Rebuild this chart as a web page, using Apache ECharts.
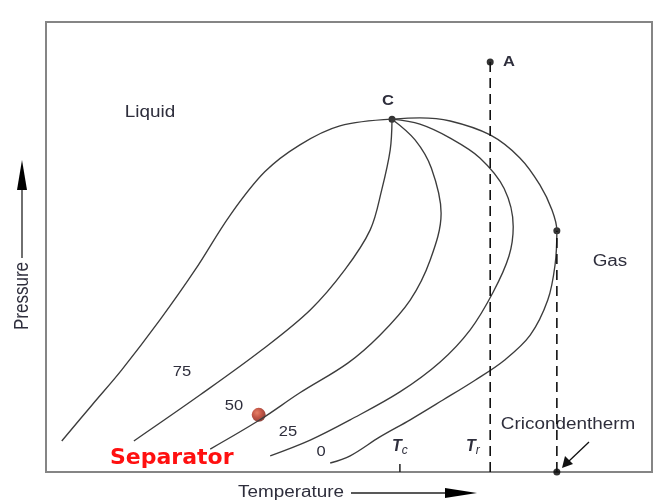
<!DOCTYPE html>
<html>
<head>
<meta charset="utf-8">
<script src="https://cdn.jsdelivr.net/npm/echarts@6/dist/echarts.min.js"></script>
<style>
  html, body { margin: 0; padding: 0; background: #fff; }
  #chart { width: 655px; height: 503px; }
</style>
</head>
<body>
<div id="chart"></div>
<script>
// Phase envelope of a gas-condensate fluid: quality lines (% liquid) in arbitrary T/P units
const criticalPoint = [57.1, 78.4];
const curve100 = [[2.6, 6.9], [7.6, 14.9], [12.5, 22.7], [18.8, 33.8], [24.6, 44.9], [30.4, 57.1], [36.1, 66.7], [41.9, 72.7], [48.5, 76.9], criticalPoint];
const curve75 = [[14.5, 6.9], [25.4, 17.1], [35.6, 27.1], [43.6, 36.0], [49.3, 44.9], [53.5, 53.8], [55.4, 62.7], [56.8, 71.6], criticalPoint];
const curve50 = [[27.1, 5.1], [35.3, 11.6], [41.9, 17.6], [49.8, 24.2], [55.1, 30.4], [60.1, 38.2], [63.4, 47.1], [65.2, 57.5], [63.6, 67.5], [60.9, 73.8], criticalPoint];
const curve25 = [[37.0, 3.6], [43.6, 7.1], [50.2, 11.6], [58.4, 17.8], [65.0, 24.4], [70.0, 31.6], [73.8, 40.0], [76.4, 48.0], [77.1, 54.5], [75.6, 63.0], [71.6, 69.8], [66.7, 74.2], [61.7, 77.3], criticalPoint];
const curve0 = [[46.9, 2.0], [50.2, 3.6], [55.1, 7.8], [60.1, 11.6], [65.5, 16.0], [70.8, 20.4], [75.7, 24.9], [79.9, 30.4], [82.8, 38.2], [84.0, 46.0], [84.3, 53.6], [83.5, 58.2], [81.5, 63.8], [78.2, 69.8], [73.3, 74.9], [66.7, 78.0], [61.7, 78.7], criticalPoint];

const pointA = [73.3, 91.1];
const cricondentherm = [84.3, 53.6];
const Tc = 58.4;
const Tr = 73.3;
const separator = [35.1, 12.7];

const qualityLabels = ['75', '50', '25', '0'];

const chart = echarts.init(document.getElementById('chart'), null, { renderer: 'canvas' });

const lineColor = '#3c3c3c';
const textColor = '#2e2e3c';
const font = 'Liberation Sans, Arial, sans-serif';
const stretch = 1.18; // lettering in this figure runs wide

function envelope(data) {
  return {
    type: 'line', data: data, smooth: 0.35, symbol: 'none', silent: true,
    lineStyle: { color: lineColor, width: 1.35 }, clip: false
  };
}

function dashed(data) {
  return {
    type: 'line', data: data, symbol: 'none', silent: true, clip: false,
    lineStyle: { color: '#111', width: 1.6, type: [10, 6] }
  };
}

function label(text, x, y, size) {
  return {
    type: 'text', x: x, y: y, scaleX: stretch,
    style: { text: text, font: size + 'px ' + font, fill: textColor, align: 'center', verticalAlign: 'middle' }
  };
}

const option = {
  animation: false,
  grid: { left: 46, top: 22, right: 3, bottom: 31, show: true, borderColor: '#858585', borderWidth: 2, backgroundColor: '#fff' },
  xAxis: { type: 'value', min: 0, max: 100, axisLine: { show: false }, axisTick: { show: false }, axisLabel: { show: false }, splitLine: { show: false } },
  yAxis: { type: 'value', min: 0, max: 100, axisLine: { show: false }, axisTick: { show: false }, axisLabel: { show: false }, splitLine: { show: false } },
  series: [
    envelope(curve100),
    envelope(curve75),
    envelope(curve50),
    envelope(curve25),
    envelope(curve0),
    dashed([[Tr, 0], pointA]),
    dashed([[cricondentherm[0], 0], cricondentherm]),
    {
      type: 'line', data: [[Tc, 0], [Tc, 1.8]], symbol: 'none', silent: true,
      lineStyle: { color: '#222', width: 1.5 }
    },
    {
      type: 'scatter', symbolSize: 7, silent: true, clip: false,
      itemStyle: { color: '#000' },
      data: [criticalPoint, pointA, cricondentherm, [cricondentherm[0], 0]]
    },
    {
      type: 'scatter', symbolSize: 14, silent: true,
      itemStyle: {
        color: new echarts.graphic.RadialGradient(0.38, 0.35, 0.7, [
          { offset: 0, color: '#e0603f' },
          { offset: 0.5, color: '#b22a18' },
          { offset: 1, color: '#6e120a' }
        ])
      },
      data: [separator]
    }
  ],
  graphic: [
    label('Liquid', 150, 113, 16),
    label('Gas', 610, 262, 16),
    label('C', 388, 101, 'bold 14'),
    label('A', 509, 62, 'bold 14'),
    label(qualityLabels[0], 182, 372, 14),
    label(qualityLabels[1], 234, 406, 14),
    label(qualityLabels[2], 288, 432, 14),
    label(qualityLabels[3], 321, 452, 14),
    {
      type: 'text', left: 392, top: 439,
      style: {
        text: '{t|T}{s|c}', fill: textColor,
        rich: { t: { font: 'italic bold 16px ' + font, fill: textColor }, s: { font: 'italic 12px ' + font, fill: textColor, padding: [8, 0, 0, 0] } }
      }
    },
    {
      type: 'text', left: 466, top: 439,
      style: {
        text: '{t|T}{s|r}', fill: textColor,
        rich: { t: { font: 'italic bold 16px ' + font, fill: textColor }, s: { font: 'italic 12px ' + font, fill: textColor, padding: [8, 0, 0, 0] } }
      }
    },
    label('Cricondentherm', 568, 425, 16),
    // pointer to the cricondentherm temperature
    { type: 'line', shape: { x1: 589, y1: 442, x2: 568, y2: 462 }, style: { stroke: '#111', lineWidth: 1.3 } },
    { type: 'polygon', shape: { points: [[562, 468], [565, 456], [573, 464]] }, style: { fill: '#111' } },
    { type: 'text', left: 110, top: 447, style: { text: 'Separator', font: 'bold 22px "Comic Sans MS", "DejaVu Sans", sans-serif', fill: '#ff1010' } },
    // axis titles with arrows
    label('Temperature', 291, 493, 16),
    { type: 'line', shape: { x1: 351, y1: 493, x2: 450, y2: 493 }, style: { stroke: '#222', lineWidth: 1.3 } },
    { type: 'polygon', shape: { points: [[445, 488], [477, 493], [445, 498]] }, style: { fill: '#000' } },
    { type: 'text', x: 22, y: 296, rotation: Math.PI / 2, scaleY: stretch, style: { text: 'Pressure', font: '17px ' + font, fill: textColor, align: 'center', verticalAlign: 'middle' } },
    { type: 'line', shape: { x1: 22, y1: 258, x2: 22, y2: 185 }, style: { stroke: '#222', lineWidth: 1.3 } },
    { type: 'polygon', shape: { points: [[17, 190], [22, 160], [27, 190]] }, style: { fill: '#000' } }
  ]
};

chart.setOption(option);
</script>
</body>
</html>
